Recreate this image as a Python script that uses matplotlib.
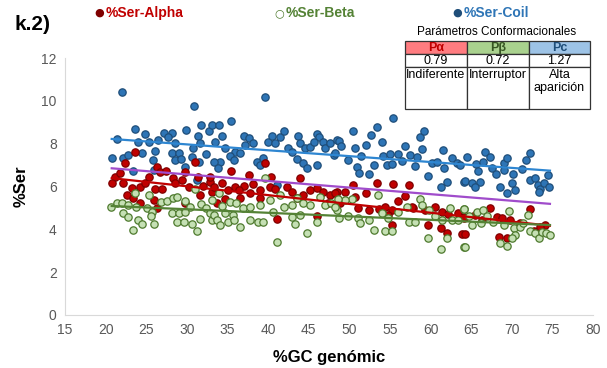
import matplotlib
matplotlib.use("Agg")
import matplotlib.pyplot as plt
from matplotlib.patches import Rectangle

plt.rcParams['font.family'] = ['Liberation Sans', 'DejaVu Sans']

# %GC genomic vs %Ser per structure class
coil_gc = [22.0, 30.9, 23.6, 21.4, 24.8, 24.0, 25.3, 26.4, 27.2, 28.2, 27.7, 28.6, 29.9, 31.4, 31.8,
           32.7, 33.1, 30.8, 31.6, 20.8, 22.2, 22.7, 24.5, 26.1, 25.8, 28.2, 29.0, 28.5, 29.3, 30.6,
           32.3, 31.5, 29.8, 31.3, 23.4, 25.9,
           39.6, 33.9, 35.4, 33.5, 34.3, 37.0, 37.6, 38.1, 37.2, 34.7, 35.9, 36.6, 35.3, 35.8,
           34.1, 33.3, 33.8, 38.6, 39.4, 39.0, 40.0, 40.5, 41.5, 42.0, 40.9, 42.5, 43.0, 43.7,
           43.9, 44.6, 45.2, 46.0, 46.3, 45.6, 46.8, 47.0, 47.6, 48.5, 48.1, 43.6, 44.3, 44.8,
           46.0, 41.1,
           55.4, 50.4, 53.4, 52.7, 54.0, 52.0, 50.7, 51.5, 48.7, 49.0, 48.3, 49.9, 51.0, 51.2,
           52.4, 53.1, 54.2, 55.0, 56.0, 54.6, 55.2, 56.9, 56.5, 57.5, 58.3, 58.1, 58.7, 59.2,
           59.0, 59.7, 60.2, 60.8, 61.5, 61.6, 62.0, 61.3, 62.6, 63.2, 64.1,
           64.5, 63.6, 65.6, 65.8, 66.5, 66.7, 67.3, 67.6, 68.0, 69.0, 69.4, 69.0, 70.1, 71.2,
           71.7, 72.2, 64.3, 65.1, 66.1, 65.5, 68.5, 69.4, 70.0, 70.4, 72.3, 72.9, 73.2, 73.5,
           74.0, 74.4, 74.6, 73.3]
coil_ser = [10.39, 9.78, 8.69, 8.21, 8.44, 8.10, 8.10, 8.18, 8.49, 8.49, 8.30, 8.02, 8.64, 8.36, 8.88,
            8.57, 8.88, 7.79, 8.02, 7.32, 7.32, 7.48, 7.56, 7.68, 7.24, 7.58, 7.58, 7.24, 7.28, 7.37,
            7.52, 7.16, 6.90, 6.31, 6.74, 6.78,
            10.17, 8.88, 9.07, 8.10, 8.36, 8.36, 8.26, 8.05, 7.94, 7.79, 7.63, 7.56, 7.43, 7.24,
            7.16, 7.16, 6.85, 7.16, 7.32, 7.01, 8.10, 8.36, 8.33, 8.61, 8.02, 7.79, 7.63, 8.36,
            8.02, 7.79, 7.86, 8.46, 8.33, 8.10, 8.10, 7.79, 8.02, 8.18, 7.48, 7.28, 7.09, 6.85,
            7.01, 6.07,
            9.19, 8.61, 8.77, 8.41, 8.10, 7.94, 7.79, 7.43, 8.14, 7.90, 7.56, 7.24, 6.90, 6.65,
            6.59, 7.01, 7.43, 7.52, 7.52, 7.01, 7.06, 7.90, 7.21, 7.48, 7.37, 6.96, 8.33, 8.57,
            7.74, 6.50, 7.12, 7.16, 7.71, 6.85, 6.23, 5.97, 7.32, 7.09, 6.23,
            7.40, 7.01, 7.06, 6.73, 7.16, 7.63, 7.40, 6.85, 6.59, 7.09, 7.32, 6.78, 6.59, 6.81,
            7.24, 7.58, 6.28, 6.15, 6.23, 5.97, 5.97, 5.69, 6.18, 5.84, 6.31, 6.39, 6.07, 5.87,
            6.18, 6.54, 5.97, 5.72]

alpha_gc = [23.6, 22.4, 21.2, 20.8, 22.2, 21.8, 22.6, 23.4, 23.2, 24.2, 24.8, 25.3, 26.3, 26.7, 27.4,
            26.1, 27.0, 25.9, 26.3, 28.3, 28.6, 29.4, 29.8, 30.3, 31.0, 31.4, 31.6, 32.0, 32.9, 33.1,
            29.8, 24.2,
            39.6, 35.4, 37.6, 40.3, 43.9, 32.9, 34.3, 33.3, 35.9, 37.0, 38.2, 35.1, 36.4, 37.8,
            39.0, 40.2, 40.9, 42.3, 42.9, 44.3, 45.2, 46.0, 46.8, 47.6, 48.5, 33.7, 34.7, 36.6,
            39.0, 41.1, 46.0, 43.6, 47.4,
            50.4, 53.4, 55.4, 57.4, 48.3, 49.5, 50.7, 52.0, 56.8, 56.0, 48.9, 51.1, 52.4, 53.6,
            54.4, 55.2, 54.8, 57.9, 59.3, 60.6, 61.4, 62.2, 63.4, 64.1, 55.2, 59.7, 61.3, 62.0,
            63.9, 57.7,
            64.1, 65.5, 67.3, 68.2, 68.8, 69.8, 72.2, 64.3, 68.4, 69.4, 72.7, 66.3, 71.0, 74.1,
            73.5]
alpha_ser = [7.63, 7.09, 6.46, 6.15, 6.15, 6.62, 5.61, 5.45, 5.92, 6.00, 6.15, 6.46, 6.93, 6.70, 6.74,
             5.87, 5.87, 5.37, 4.99, 6.39, 6.15, 6.31, 6.70, 6.00, 7.16, 6.46, 5.61, 6.03, 6.23, 5.76,
             5.22, 5.25,
             7.09, 6.74, 6.54, 6.46, 6.39, 6.46, 6.15, 6.00, 6.00, 6.03, 6.12, 5.84, 5.84, 5.69,
             5.84, 6.00, 5.87, 5.97, 5.76, 5.61, 5.84, 5.92, 5.76, 5.61, 5.76, 5.22, 5.41, 5.45,
             5.45, 4.47, 4.63, 5.45, 5.22,
             6.07, 6.18, 6.12, 6.07, 5.69, 5.72, 5.50, 5.69, 5.56, 5.34, 5.25, 4.99, 4.91, 4.94,
             5.06, 4.91, 4.67, 4.99, 4.91, 5.06, 4.83, 4.72, 4.75, 4.52, 4.21, 4.21, 4.05, 3.85,
             3.79, 5.06,
             4.59, 4.67, 4.99, 4.59, 4.52, 4.44, 4.94, 3.79, 3.66, 3.58, 3.94, 4.44, 4.28, 4.21,
             4.13]

beta_gc = [20.7, 21.4, 22.0, 22.8, 22.2, 22.7, 24.0, 24.5, 23.4, 23.6, 23.8, 25.1, 25.7, 26.0, 25.6,
           26.8, 27.5, 28.3, 28.8, 28.2, 29.0, 28.8, 29.6, 29.8, 30.4, 31.0, 30.6, 31.2, 31.6, 31.8,
           32.4, 32.9, 33.1, 25.3, 29.8,
           39.6, 33.9, 33.1, 34.3, 35.3, 36.1, 36.9, 37.8, 39.0, 40.2, 41.5, 41.9, 42.9, 43.6,
           44.3, 45.2, 46.4, 47.0, 47.8, 33.3, 33.7, 34.1, 34.7, 35.1, 35.7, 35.8, 36.6, 37.8,
           38.8, 39.4, 40.6, 41.1, 42.9, 43.3, 43.9, 44.8, 46.0, 48.7, 48.5,
           53.5, 50.3, 49.5, 48.6, 48.3, 49.9, 51.1, 52.4, 51.3, 53.0, 54.4, 55.3, 54.0, 54.8,
           56.0, 57.1, 57.3, 58.1, 58.7, 59.0, 59.8, 60.6, 61.4, 62.4, 62.7, 63.4, 64.1, 59.7,
           61.3, 62.0, 64.1,
           64.1, 64.7, 65.7, 66.5, 66.9, 65.1, 66.2, 67.7, 69.0, 69.6, 70.3, 70.4, 70.0, 71.0,
           71.4, 72.0, 72.3, 72.9, 73.3, 73.7, 74.2, 74.7, 68.6, 69.4, 64.3]
beta_ser = [5.03, 5.22, 5.22, 5.14, 4.75, 4.59, 4.44, 4.25, 3.97, 5.69, 5.06, 4.99, 4.83, 4.25, 4.63,
            5.29, 5.34, 5.45, 5.53, 4.75, 4.75, 4.36, 4.36, 5.34, 5.06, 5.87, 4.25, 3.94, 4.47, 5.19,
            4.99, 4.75, 4.44, 5.61, 4.83,
            6.39, 5.69, 5.37, 5.09, 5.29, 5.22, 4.99, 5.06, 5.14, 5.37, 5.61, 5.06, 5.14, 5.45,
            5.22, 5.14, 5.53, 5.14, 5.22, 4.67, 4.44, 4.21, 4.75, 4.36, 4.67, 4.44, 4.10, 4.44,
            4.36, 4.36, 4.83, 3.43, 4.59, 4.25, 4.67, 3.82, 4.36, 4.52, 4.91,
            5.61, 5.41, 5.37, 5.41, 5.06, 4.63, 4.52, 4.44, 4.28, 3.97, 3.94, 3.94, 4.78, 4.52,
            4.83, 5.06, 4.36, 4.36, 5.41, 5.14, 4.91, 4.63, 4.44, 4.99, 4.44, 4.44, 4.94, 3.58,
            3.07, 3.58, 3.19,
            4.94, 4.63, 4.83, 4.91, 4.63, 4.21, 4.28, 4.36, 4.21, 4.87, 4.05, 3.74, 3.58, 4.13,
            4.28, 4.67, 3.94, 3.85, 3.58, 3.89, 3.82, 3.74, 3.35, 3.22, 3.19]

# linear trend lines (start / end values)
trend_gc = [20.75, 74.7]
trend_coil = [8.22, 6.74]
trend_mix = [6.85, 5.19]
trend_alpha = [6.39, 4.17]
trend_beta = [5.09, 4.20]

# conformational parameters table
param_head = ["P\u03b1", "P\u03b2", "Pc"]
param_vals = ["0.79", "0.72", "1.27"]
param_text = ["Indiferente", "Interruptor", "Alta\naparición"]

fig = plt.figure(figsize=(6.07, 3.68), dpi=100)
ax = fig.add_axes([65 / 607, 1 - 315 / 368, (593 - 65) / 607, (315 - 58) / 368])

series = [
    (coil_gc, coil_ser, "#2E75B6", "#1F4E79"),
    (alpha_gc, alpha_ser, "#C00000", "#7F0000"),
    (beta_gc, beta_ser, "#C5E0B4", "#4E7A2E"),
]
for gc, ser, fc, ec in series:
    ax.scatter(gc, ser, s=28, c=fc, edgecolors=ec, linewidths=0.9, zorder=2)

ax.plot(trend_gc, trend_coil, color="#2E86D1", lw=1.6, zorder=3)
ax.plot(trend_gc, trend_mix, color="#A04CCB", lw=1.6, zorder=3)
ax.plot(trend_gc, trend_alpha, color="#C00000", lw=1.6, zorder=3)
ax.plot(trend_gc, trend_beta, color="#548235", lw=1.6, zorder=3)

ax.set_xlim(15, 80)
ax.set_ylim(0, 12)
ax.set_xticks(range(15, 81, 5))
ax.set_yticks(range(0, 13, 2))
ax.tick_params(length=0, labelsize=10, labelcolor="#595959", pad=6)
for side in ["top", "right"]:
    ax.spines[side].set_visible(False)
for side in ["left", "bottom"]:
    ax.spines[side].set_color("#D9D9D9")
ax.set_xlabel("%GC genómic", fontsize=12, fontweight="bold", labelpad=9)
ax.set_ylabel("%Ser", fontsize=12, fontweight="bold", labelpad=9)

fig.text(15 / 607, 1 - 25 / 368, "k.2)", fontsize=15, fontweight="bold", va="center")

# legend row on top
legend = [("%Ser-Alpha", "#C00000", "#7F0000", "#C00000", 99, "\u25cf"),
          ("%Ser-Beta", "#C5E0B4", "#4E7A2E", "#548235", 279, "\u25cb"),
          ("%Ser-Coil", "#2E75B6", "#1F4E79", "#2E75B6", 457, "\u25cf")]
for name, fc, ec, tc, px, glyph in legend:
    fig.text(px / 607, 1 - 13 / 368, glyph, color=ec, fontsize=8, va="center",
             ha="center", family="DejaVu Sans")
    fig.text((px + 7) / 607, 1 - 13 / 368, name, color=tc, fontsize=10,
             fontweight="bold", va="center")

# parameters table
tax = fig.add_axes([405 / 607, 1 - 109 / 368, 185 / 607, 69 / 368])
tax.set_xlim(405, 590)
tax.set_ylim(109, 40)
tax.axis("off")
col_edges = [405, 467, 529, 590]
row_edges = [40.5, 54, 67, 109]
head_fill = ["#FF7C80", "#A9D18E", "#9DC3E6"]
head_color = ["#C00000", "#375623", "#1F4E79"]
for i in range(3):
    x0, x1 = col_edges[i], col_edges[i + 1]
    for r in range(3):
        y0, y1 = row_edges[r], row_edges[r + 1]
        tax.add_patch(Rectangle((x0, y0), x1 - x0, y1 - y0, clip_on=False,
                                facecolor=head_fill[i] if r == 0 else "white",
                                edgecolor="#333333", lw=0.9))
    xc = (x0 + x1) / 2
    tax.text(xc, (row_edges[0] + row_edges[1]) / 2 + 0.5, param_head[i], ha="center",
             va="center", fontsize=9, fontweight="bold", color=head_color[i])
    tax.text(xc, (row_edges[1] + row_edges[2]) / 2 + 0.5, param_vals[i], ha="center",
             va="center", fontsize=9)
    tax.text(xc, row_edges[2] + 2, param_text[i], ha="center", va="top", fontsize=9,
             linespacing=1.1)
tax.text(497, 32, "Parámetros Conformacionales", ha="center", va="center", fontsize=8.5,
         clip_on=False)

fig.savefig("out.png", dpi=100)
